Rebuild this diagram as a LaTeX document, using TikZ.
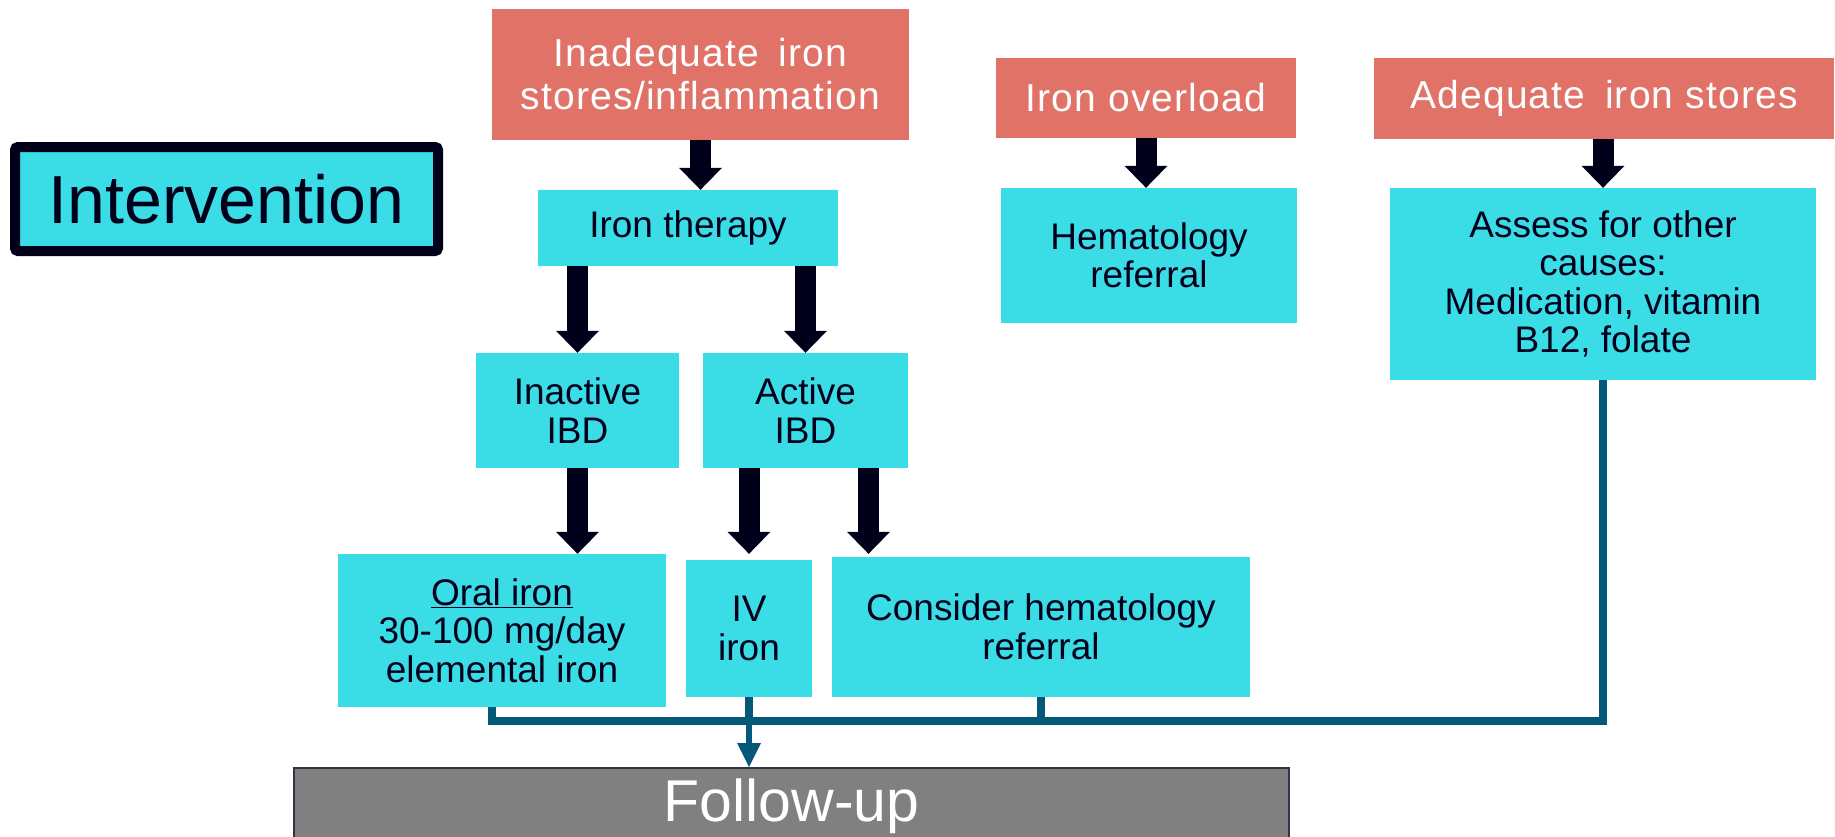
\documentclass[tikz,border=0pt]{standalone}
\usepackage{fontspec}
\setmainfont{Liberation Sans}
\usetikzlibrary{arrows.meta}
\definecolor{salmon}{HTML}{E07268}
\definecolor{aqua}{HTML}{3ADDE6}
\definecolor{navy}{HTML}{00001A}
\definecolor{busteal}{HTML}{04587A}
\definecolor{fugray}{HTML}{808080}

\begin{document}
\begin{tikzpicture}[x=1pt,y=-1pt,
    store/.style={fill=salmon,text=white,align=center,inner sep=0pt,
        font=\fontsize{39}{43}\selectfont\addfontfeature{LetterSpace=3}},
    act/.style={fill=aqua,text=navy,align=center,inner sep=0pt,
        font=\fontsize{37}{38.5}\selectfont},
    down/.style={draw=navy,line width=21pt,
        -{Triangle[width=43pt,length=22pt,line width=0pt]}},
    bus/.style={draw=busteal,line width=7.5pt}]
    \useasboundingbox (0,0) rectangle (1835,836);
    % Label
    \node[fill=aqua,draw=navy,line width=10pt,rounded corners=3pt,
        minimum width=423pt,minimum height=104pt,text=navy,
        font=\fontsize{68}{70}\selectfont] (intervention) at (226.5,199) {Intervention};
    % Iron status
    \node[store,minimum width=417pt,minimum height=131pt] (lowiron) at (700.5,74.5) {Inadequate\enspace iron\\stores/inflammation};
    \node[store,minimum width=300pt,minimum height=80pt] (overload) at (1146,98) {Iron overload};
    \node[store,minimum width=460pt,minimum height=81pt] (adequate) at (1604,98.5) {Adequate\enspace iron stores};
    % Actions
    \node[act,minimum width=300pt,minimum height=76pt] (therapy) at (688,228) {Iron therapy};
    \node[act,minimum width=296pt,minimum height=135pt] (hema) at (1149,255.5) {Hematology\\referral};
    \node[act,minimum width=426pt,minimum height=192pt] (assess) at (1603,284) {Assess for other\\causes:\\Medication, vitamin\\B12, folate};
    \node[act,minimum width=203pt,minimum height=115pt] (inactive) at (577.5,410.5) {Inactive\\IBD};
    \node[act,minimum width=205pt,minimum height=115pt] (active) at (805.5,410.5) {Active\\IBD};
    \node[act,minimum width=328pt,minimum height=153pt] (oral) at (502,630.5) {\underline{Oral iron}\\30-100 mg/day\\elemental iron};
    \node[act,minimum width=126pt,minimum height=137pt] (iv) at (749,628.5) {IV\\iron};
    \node[act,minimum width=418pt,minimum height=140pt] (consider) at (1041,627) {Consider hematology\\referral};
    \node[fill=fugray,draw=navy!80,line width=2pt,text=white,
        minimum width=995pt,minimum height=76pt,
        font=\fontsize{59}{60}\selectfont] (followup) at (791.5,806) {Follow-up};
    % Arrows
    \draw[down] (lowiron.south) -- (lowiron.south |- therapy.north);
    \draw[down] (overload.south) -- (overload.south |- hema.north);
    \draw[down] (assess.north |- adequate.south) -- (assess.north);
    \draw[down] (inactive.north |- therapy.south) -- (inactive.north);
    \draw[down] (active.north |- therapy.south) -- (active.north);
    \draw[down] (inactive.south) -- (inactive.south |- oral.north);
    \draw[down] (iv.north |- active.south) -- (iv.north |- oral.north);
    \draw[down] ([xshift=63pt]active.south) -- ([xshift=63pt]active.south |- oral.north);
    % Collecting line
    \coordinate (busy) at (0,721);
    \draw[bus] ([xshift=-10pt]oral.south) |- (assess.south |- busy) -- (assess.south);
    \draw[bus] (iv.south) -- (iv.south |- busy);
    \draw[bus] (consider.south) -- (consider.south |- busy);
    \draw[bus,line width=6pt,-{Triangle[width=24pt,length=24pt,line width=0pt]}]
        (iv.south |- busy) -- (iv.south |- followup.north);
\end{tikzpicture}
\end{document}
